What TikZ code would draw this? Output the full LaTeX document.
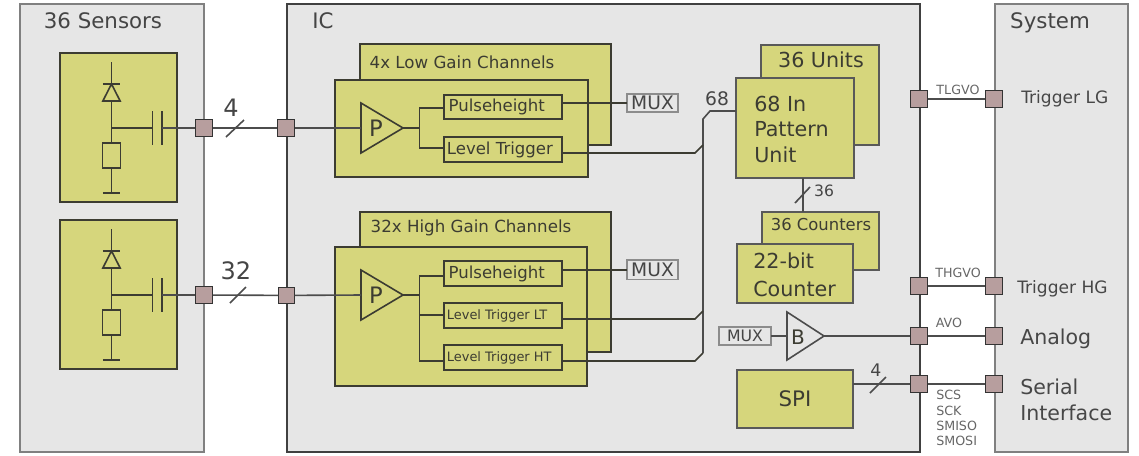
\documentclass[tikz,border=0pt]{standalone}
\usepackage{fontspec}
\setmainfont{DejaVu Sans}
\definecolor{yel}{HTML}{D6D67C}
\definecolor{pan}{HTML}{E6E6E6}
\definecolor{prt}{HTML}{B79E9E}
\definecolor{ink}{HTML}{3C3C32}
\definecolor{txt}{HTML}{454545}
\newcommand{\bx}[7]{\node[#2,minimum width={((#5)-(#3))*0.75pt},minimum height={((#6)-(#4))*0.75pt}] (#1) at ({((#3)+(#5))/2},{((#4)+(#6))/2}) {#7};}
\newcommand{\ltxt}[2]{\makebox[88.5pt][l]{\hspace{#1}#2}}
\tikzset{
  x=0.75pt,y=-0.75pt,
  base/.style={inner sep=0pt,outer sep=0pt,rectangle},
  panelgray/.style={base,fill=pan,draw=black!50,line width=1.5pt},
  panelic/.style={base,fill=pan,draw=black!75,line width=1.7pt},
  ybox/.style={base,fill=yel,draw=ink,line width=1.5pt},
  ysub/.style={ybox,line width=1.2pt,text=ink,font=\fontsize{12.4}{14}\selectfont},
  ysmall/.style={ybox,line width=1.2pt,text=ink,font=\fontsize{9.7}{11}\selectfont},
  yboxthin/.style={base,fill=yel,draw=black!65,line width=1.2pt},
  muxbox/.style={base,fill=pan,draw=black!45,line width=1pt,text=txt,font=\fontsize{14}{15}\selectfont},
  port/.style={base,fill=prt,draw=black!80,line width=1pt,minimum size=13.2pt},
  wire/.style={draw=black!70,line width=1.2pt},
  cwire/.style={draw=ink,line width=1.2pt},
  tag/.style={inner sep=0pt,text=txt,font=\fontsize{18}{20}\selectfont},
  ttl/.style={inner sep=0pt,text=ink,font=\fontsize{12.5}{14}\selectfont},
  lbl/.style={inner sep=0pt,text=ink,font=\fontsize{15.5}{17}\selectfont},
  sig/.style={inner sep=0pt,text=black!60,font=\fontsize{9.5}{11}\selectfont},
  ext/.style={inner sep=0pt,anchor=west,text=black!72,font=\fontsize{12.8}{15}\selectfont},
  extbig/.style={ext,font=\fontsize{15.4}{18}\selectfont},
}
\newcommand{\sensor}[2]{%
  \bx{sb#1}{ybox}{60}{#2+53}{177}{#2+202}{}
  \coordinate (st#1) at (111.5,#2+62);
  \coordinate (dt#1) at (111.5,#2+84);
  \coordinate (db#1) at (111.5,#2+101);
  \coordinate (j#1) at (111.5,#2+128);
  \bx{res#1}{base,draw=ink,line width=1.2pt,fill=yel}{102.5}{#2+143}{120.5}{#2+168}{}
  \coordinate (g#1) at (111.5,#2+193);
  \coordinate (cl#1) at (152.5,#2+128);
  \coordinate (cr#1) at (162,#2+128);
  \draw[cwire] (st#1) -- (dt#1) (db#1) -- (j#1) -- (res#1.north) (res#1.south) -- (g#1);
  \draw[cwire] ([xshift=-6.5pt]g#1) -- ([xshift=6.5pt]g#1);
  \draw[cwire] ([xshift=-6.5pt]dt#1) -- ([xshift=6.5pt]dt#1);
  \draw[cwire,fill=yel] (dt#1) -- ([xshift=-6.5pt]db#1) -- ([xshift=6.5pt]db#1) -- cycle;
  \draw[cwire] (j#1) -- (cl#1);
  \draw[cwire] ([yshift=12.5pt]cl#1) -- ([yshift=-12.5pt]cl#1);
  \draw[cwire] ([yshift=12.5pt]cr#1) -- ([yshift=-12.5pt]cr#1);
}
\begin{document}
\begin{tikzpicture}
\useasboundingbox (0,0) rectangle (1139,455);
% panels
\bx{sens}{panelgray}{20}{4}{204}{452}{}
\bx{ic}{panelic}{287}{4}{920}{452}{}
\bx{sys}{panelgray}{995}{4}{1128}{452}{}
\node[tag,font=\fontsize{16}{18}\selectfont] (tsens) at (103,21) {36 Sensors};
\node[tag,font=\fontsize{16}{18}\selectfont] (tic) at (323,21) {IC};
\node[tag,font=\fontsize{16}{18}\selectfont] (tsys) at (1050,22.5) {System};
% sensors
\sensor{a}{0}
\sensor{b}{167}
% low gain
\bx{lgback}{ybox}{360}{44}{611}{145}{}
\node[ttl] (lgt) at (462,62) {4x Low Gain Channels};
\bx{lgfront}{ybox}{335}{80}{588}{177}{}
\bx{lgph}{ysub}{444}{95}{562}{119}{\ltxt{3.5pt}{Pulseheight}}
\bx{lglt}{ysub}{444}{137}{562}{162}{\ltxt{2.2pt}{Level Trigger}}
\bx{muxa}{muxbox}{627}{94}{678}{112}{MUX}
% high gain
\bx{hgback}{ybox,line width=1.8pt}{360}{212}{611}{352}{}
\node[ttl] (hgt) at (471,228) {32x High Gain Channels};
\bx{hgfront}{ybox,line width=1.8pt}{335}{247}{587}{386}{}
\bx{hgph}{ysub}{444}{261}{562}{286}{\ltxt{3.5pt}{Pulseheight}}
\bx{hglt}{ysmall}{444}{303}{562}{328}{\ltxt{2.2pt}{Level Trigger LT}}
\bx{hght}{ysmall}{444}{345}{562}{370}{\ltxt{2.2pt}{Level Trigger HT}}
\bx{muxb}{muxbox}{627}{260}{678}{279.6}{MUX}
% pattern and counters
\bx{uback}{yboxthin}{761}{45}{879}{145}{}
\node[lbl] (ut) at (821,60) {36 Units};
\bx{ufront}{yboxthin}{736}{78}{854}{178}{}
\node[lbl,anchor=west] (u1) at (754,104) {68 In};
\node[lbl,anchor=west] (u2) at (754,129) {Pattern};
\node[lbl,anchor=west] (u3) at (754,155) {Unit};
\bx{cback}{yboxthin}{762}{212}{879}{270}{}
\node[lbl,font=\fontsize{12.3}{14}\selectfont] (ct) at (821,225) {36 Counters};
\bx{cfront}{yboxthin}{737}{244}{853}{303}{}
\node[lbl,anchor=west] (c1) at (753,261) {22-bit};
\node[lbl,anchor=west] (c2) at (753,289) {Counter};
\bx{spi}{yboxthin,text=ink,font=\fontsize{16}{18}\selectfont}{737}{370}{853}{428}{SPI}
\bx{muxc}{muxbox,font=\fontsize{11.8}{13}\selectfont}{719}{327}{771}{345}{MUX}
% ports
\node[port] (pa) at (204,128) {};
\node[port] (pb) at (286,128) {};
\node[port] (pc) at (204,295) {};
\node[port,minimum size=12.2pt] (pd) at (286.4,295.4) {};
\node[port] (ptl) at (919,99) {};
\node[port] (ptls) at (994,99) {};
\node[port] (pth) at (919,286) {};
\node[port] (pths) at (994,286) {};
\node[port] (pav) at (919,336) {};
\node[port] (pavs) at (994,336) {};
\node[port] (psp) at (919,384) {};
\node[port] (psps) at (994,384) {};
% amplifiers
\coordinate (pai) at (361,128); \coordinate (pao) at (403,128);
\coordinate (pbi) at (361,295); \coordinate (pbo) at (403,295);
\coordinate (bi) at (787,336); \coordinate (bo) at (824,336);
\draw[cwire] (361,103) -- (pao) -- (361,153) -- cycle;
\draw[cwire] (361,270) -- (pbo) -- (361,320) -- cycle;
\draw[wire,fill=pan] (787,312) -- (bo) -- (787,360) -- cycle;
\node[lbl,font=\fontsize{17}{19}\selectfont] (tp1) at (376,128) {P};
\node[lbl,font=\fontsize{17}{19}\selectfont] (tp2) at (376,295) {P};
\node[lbl,font=\fontsize{15}{17}\selectfont] (tb) at (798,337) {B};
% sensor to IC wires
\draw[wire] (cra) -- (pa);
\draw[wire] (pa) -- (pb);
\draw[wire] (pb) -- (pai);
\draw[wire] (crb) -- (pc);
\draw[wire] (pc) -- (pd);
\draw[wire] (pd) -- (pbi);
\coordinate (sa1) at (226,137); \coordinate (sa2) at (244,120);
\coordinate (sb1) at (230,303); \coordinate (sb2) at (246,287);
\draw[wire] (sa1) -- (sa2);
\draw[wire] (sb1) -- (sb2);
\node[tag] (n4) at (231,108) {4};
\node[tag] (n32) at (236,271) {32};
% low gain internals
\coordinate (lj) at (419.5,128);
\draw[cwire] (pao) -- (lj);
\draw[cwire] (lgph.west |- 0,108) -- (lj |- 0,108) -- (lj |- 0,148) -- (lglt.west |- 0,148);
\draw[cwire] (muxa.west) -- (muxa.west -| lgph.east);
% high gain internals
\coordinate (hj) at (419.5,295);
\draw[cwire] (pbo) -- (hj);
\draw[cwire] (hgph.west |- 0,276) -- (hj |- 0,276) -- (hj |- 0,361) -- (hght.west |- 0,361);
\draw[cwire] (hj |- 0,315) -- (hglt.west |- 0,315);
\draw[cwire] (muxb.west) -- (muxb.west -| hgph.east);
% trigger bus
\coordinate (bus1) at (703,353);
\coordinate (bus2) at (703,311);
\coordinate (bus3) at (703,145);
\coordinate (bus4) at (703,119);
\coordinate (bus5) at (710,111);
\draw[wire] (bus1) -- (bus4) -- (bus5) -- (bus5 -| ufront.west);
\draw[cwire] (lglt.east |- 0,153) -- (695,153) -- (bus3);
\draw[cwire] (hglt.east |- 0,319) -- (695,319) -- (bus2);
\draw[cwire] (hght.east |- 0,361) -- (695,361) -- (bus1);
\node[tag,font=\fontsize{14}{16}\selectfont] (n68) at (717,99) {68};
% pattern to counters
\coordinate (uc) at (803,178); \coordinate (cc) at (803,212);
\draw[wire] (uc) -- (cc);
\coordinate (us1) at (795,203); \coordinate (us2) at (810,187);
\draw[wire] (us1) -- (us2);
\node[tag,font=\fontsize{11.7}{13}\selectfont] (n36) at (824,191) {36};
% right side
\draw[wire] (muxc) -- (bi);
\draw[wire] (bo) -- (pav);
\draw[wire] (spi.east |- psp) -- (psp);
\coordinate (ss1) at (870,393); \coordinate (ss2) at (886,377);
\draw[wire] (ss1) -- (ss2);
\node[tag,font=\fontsize{13}{15}\selectfont] (n4b) at (876,370) {4};
\draw[wire] (ptl) -- (ptls);
\draw[wire] (pth) -- (pths);
\draw[wire] (pav) -- (pavs);
\draw[wire] (psp) -- (psps);
% signal labels
\node[sig] (s1) at (958,90) {TLGVO};
\node[sig] (s2) at (958,273) {THGVO};
\node[sig] (s3) at (949,323) {AVO};
\node[sig,anchor=west] (s4) at (936,395) {SCS};
\node[sig,anchor=west] (s5) at (936,411) {SCK};
\node[sig,anchor=west] (s6) at (936,426) {SMISO};
\node[sig,anchor=west] (s7) at (936,441) {SMOSI};
% system labels
\node[ext] (e1) at (1021,99) {Trigger LG};
\node[ext] (e2) at (1017,288.5) {Trigger HG};
\node[extbig] (e3) at (1020,338.5) {Analog};
\node[extbig] (e4) at (1020,387) {Serial};
\node[extbig] (e5) at (1020,413) {Interface};
\end{tikzpicture}
\end{document}
